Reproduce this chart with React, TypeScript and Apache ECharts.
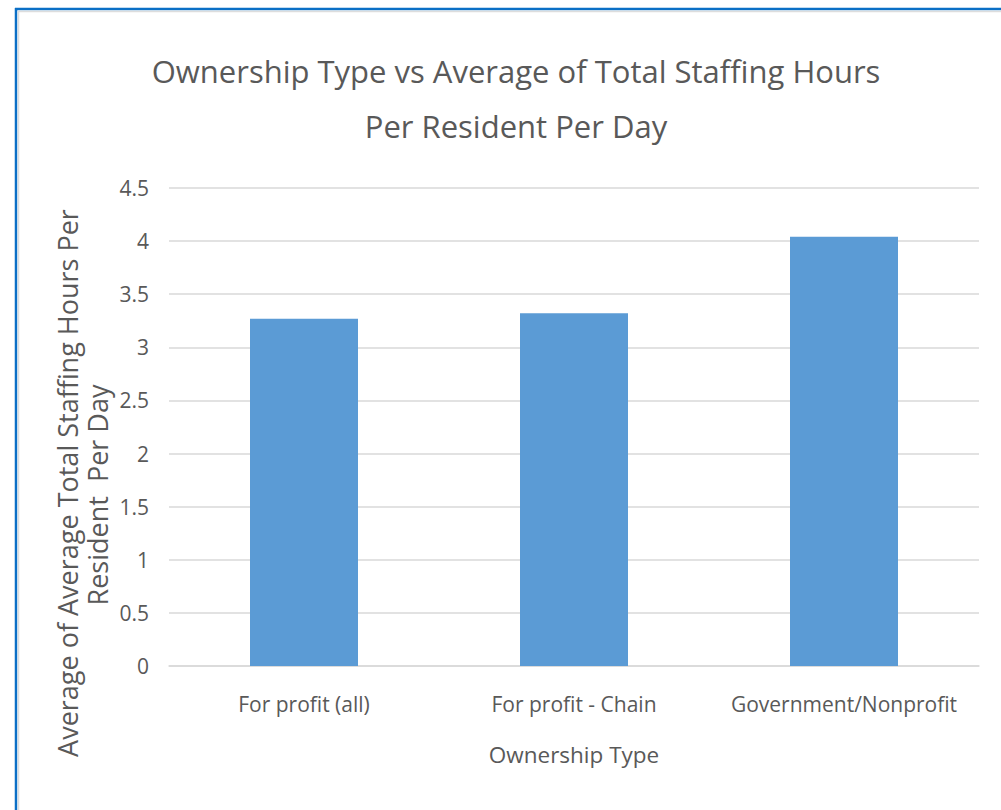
import React, { useEffect, useRef } from "react";
import * as echarts from "echarts";

const categories = ["For profit (all)", "For profit - Chain", "Government/Nonprofit"];
const values = [3.27, 3.32, 4.04];
const titleLines = ["Ownership Type vs Average of Total Staffing Hours", "Per Resident Per Day"];
const yTitleLines = ["Average of Average Total Staffing Hours Per", "Resident  Per Day"];
const xTitle = "Ownership Type";

const FONT = "'Open Sans', sans-serif";
const GREY = "#595959";

export default function App() {
  const ref = useRef<HTMLDivElement>(null);
  useEffect(() => {
    const chart = echarts.init(ref.current!, null, { renderer: "svg" });
    const yTitleStyle = {
      fontFamily: FONT,
      fontSize: 27,
      fill: GREY,
      textAlign: "center",
      textVerticalAlign: "middle",
    };
    chart.setOption({
      animation: false,
      backgroundColor: "#ffffff",
      textStyle: { fontFamily: FONT },
      title: {
        text: titleLines.join("\n"),
        left: 511,
        top: 38,
        textAlign: "center",
        textStyle: { fontFamily: FONT, fontSize: 31, fontWeight: "normal", color: GREY, lineHeight: 55 },
      },
      grid: { left: 169, right: 22, top: 188, bottom: 144, containLabel: false },
      xAxis: {
        type: "category",
        data: categories,
        axisLine: { show: true, lineStyle: { color: "#d9d9d9", width: 1.5 } },
        axisTick: { show: false },
        axisLabel: { color: GREY, fontSize: 21, fontFamily: FONT, margin: 27, interval: 0 },
        name: xTitle,
        nameLocation: "middle",
        nameGap: 77,
        nameTextStyle: { color: GREY, fontSize: 22.5, fontFamily: FONT },
      },
      yAxis: {
        type: "value",
        min: 0,
        max: 4.5,
        interval: 0.5,
        axisLine: { show: false },
        axisTick: { show: false },
        splitLine: { lineStyle: { color: "#d9d9d9", width: 1.5 } },
        axisLabel: { color: GREY, fontSize: 21, fontFamily: FONT, margin: 20 },
      },
      series: [
        {
          type: "bar",
          data: values,
          barWidth: "40%",
          itemStyle: { color: "#5b9bd5" },
        },
      ],
      graphic: [
        { type: "line", shape: { x1: 16, y1: 8, x2: 16, y2: 810 }, style: { stroke: "#0b6fc6", lineWidth: 2.5 } },
        { type: "line", shape: { x1: 15, y1: 9, x2: 1001, y2: 9 }, style: { stroke: "#0b6fc6", lineWidth: 2.5 } },
        { type: "line", shape: { x1: 18.5, y1: 11, x2: 18.5, y2: 810 }, style: { stroke: "#dddddd", lineWidth: 1.5 } },
        { type: "line", shape: { x1: 18, y1: 11.5, x2: 1001, y2: 11.5 }, style: { stroke: "#dddddd", lineWidth: 1.5 } },
        {
          type: "text",
          x: 67,
          y: 483,
          rotation: Math.PI / 2,
          style: { ...yTitleStyle, text: yTitleLines[0] },
        },
        {
          type: "text",
          x: 97,
          y: 495,
          rotation: Math.PI / 2,
          style: { ...yTitleStyle, text: yTitleLines[1] },
        },
      ],
    });
    return () => chart.dispose();
  }, []);
  return (
    <div
      ref={ref}
      style={{ position: "absolute", left: 0, top: 0, width: 1001, height: 810 }}
    />
  );
}
